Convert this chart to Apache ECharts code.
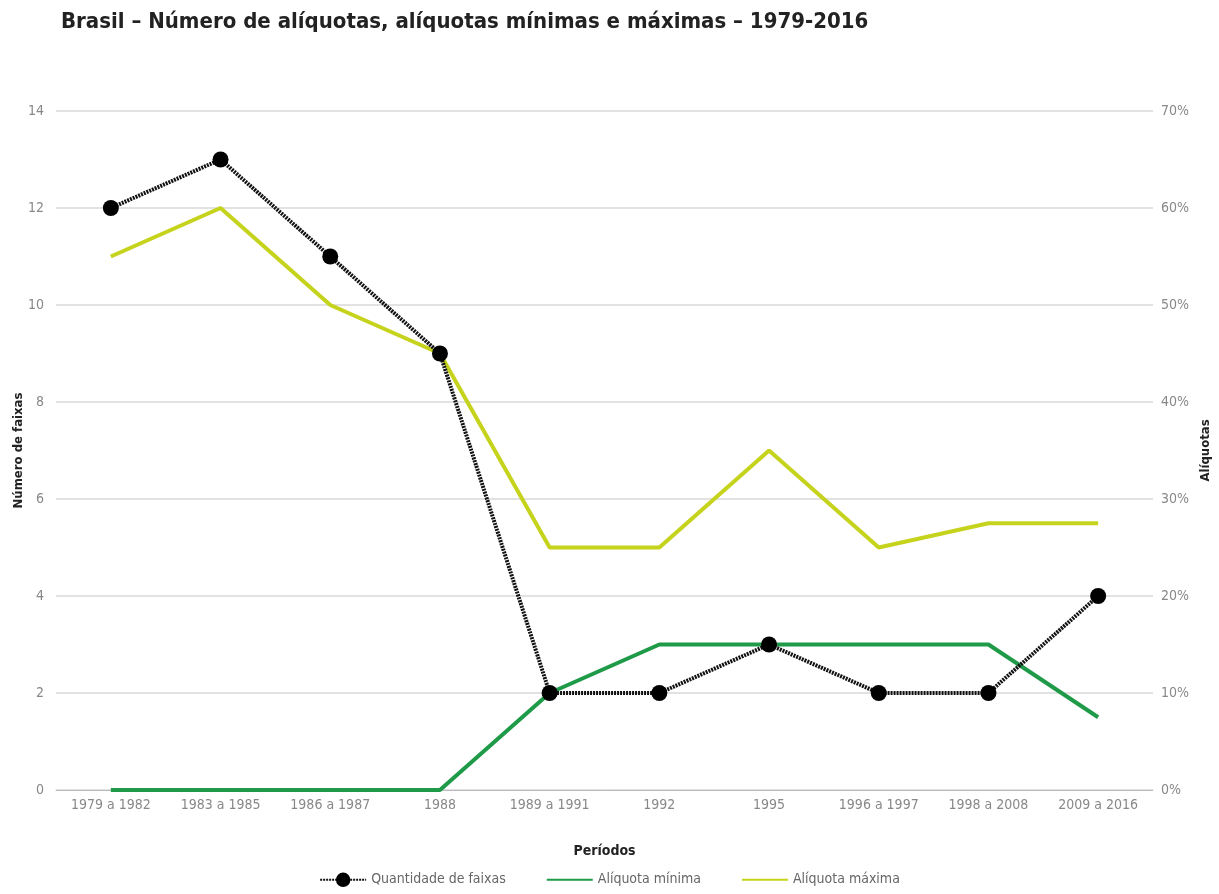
<!DOCTYPE html>
<html>
<head>
<meta charset="utf-8">
<script src="https://cdn.jsdelivr.net/npm/echarts@6/dist/echarts.min.js"></script>
<style>
  html, body { margin: 0; padding: 0; background: #fff; }
  #chartData { width: 1219px; height: 894px; }
</style>
</head>
<body>
<div id="chartData"></div>
<script>
var periodos = ['1979 a 1982', '1983 a 1985', '1986 a 1987', '1988', '1989 a 1991',
                '1992', '1995', '1996 a 1997', '1998 a 2008', '2009 a 2016'];
var faixas = [12, 13, 11, 9, 2, 2, 3, 2, 2, 4];
var aliqMinima = [0, 0, 0, 0, 10, 15, 15, 15, 15, 7.5];
var aliqMaxima = [55, 60, 50, 45, 25, 25, 35, 25, 27.5, 27.5];

var fonte = '"Liberation Sans Narrow", "DejaVu Sans Condensed", Roboto, sans-serif';

var myChart = echarts.init(document.getElementById('chartData'));

var option = {
    backgroundColor: '#fff',
    textStyle: { fontFamily: fonte },
    title: {
        text: 'Brasil – Número de alíquotas, alíquotas mínimas e máximas – 1979-2016',
        left: 56,
        top: 6,
        textStyle: { fontFamily: fonte, fontSize: 22, fontWeight: 'bold', color: '#222' }
    },
    legend: {
        bottom: 2,
        left: 'center',
        itemGap: 40,
        itemWidth: 46,
        itemHeight: 18,
        textStyle: { fontFamily: fonte, fontSize: 14, color: '#666' },
        data: [
            { name: 'Quantidade de faixas' },
            { name: 'Alíquota mínima', itemStyle: { opacity: 0 } },
            { name: 'Alíquota máxima', itemStyle: { opacity: 0 } }
        ]
    },
    grid: { left: 56, right: 66, top: 111, bottom: 104, outerBoundsMode: 'none' },
    xAxis: {
        type: 'category',
        data: periodos,
        name: 'Períodos',
        nameLocation: 'middle',
        nameGap: 54,
        nameTextStyle: { fontFamily: fonte, fontSize: 14, fontWeight: 'bold', color: '#222' },
        axisLine: { lineStyle: { color: '#bbb' } },
        axisTick: { show: false },
        axisLabel: { interval: 0, color: '#888', fontFamily: fonte, fontSize: 14, margin: 8 }
    },
    yAxis: [{
        type: 'value',
        min: 0, max: 14, interval: 2,
        name: 'Número de faixas',
        nameLocation: 'middle',
        nameGap: 31,
        nameMoveOverlap: false,
        nameTextStyle: { fontFamily: fonte, fontSize: 13, fontWeight: 'bold', color: '#222' },
        axisLabel: { color: '#888', fontFamily: fonte, fontSize: 14, margin: 12 },
        splitLine: { lineStyle: { color: '#d8d8d8', width: 1.5 } }
    }, {
        type: 'value',
        min: 0, max: 70, interval: 10,
        name: 'Alíquotas',
        nameLocation: 'middle',
        nameGap: 46,
        nameMoveOverlap: false,
        nameRotate: 90,
        nameTextStyle: { fontFamily: fonte, fontSize: 13, fontWeight: 'bold', color: '#222' },
        axisLabel: { color: '#888', fontFamily: fonte, fontSize: 14, margin: 8, formatter: '{value}%' },
        splitLine: { show: false }
    }],
    series: [{
        name: 'Quantidade de faixas',
        type: 'line',
        yAxisIndex: 0,
        data: faixas,
        symbol: 'circle',
        symbolSize: 16,
        itemStyle: { color: '#000' },
        lineStyle: { color: '#111', width: 4, type: [2, 1] },
        z: 5
    }, {
        name: 'Alíquota mínima',
        type: 'line',
        yAxisIndex: 1,
        data: aliqMinima,
        symbol: 'none',
        itemStyle: { color: '#1e9a48' },
        lineStyle: { color: '#1e9a48', width: 4 }
    }, {
        name: 'Alíquota máxima',
        type: 'line',
        yAxisIndex: 1,
        data: aliqMaxima,
        symbol: 'none',
        itemStyle: { color: '#c6d31c' },
        lineStyle: { color: '#c6d31c', width: 4 }
    }]
};

myChart.setOption(option);
</script>
</body>
</html>
